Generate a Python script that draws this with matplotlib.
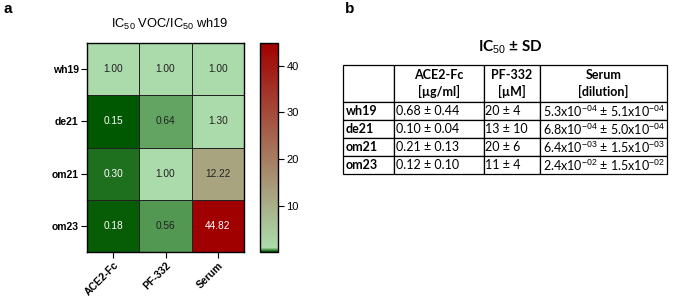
import numpy as np
import matplotlib
matplotlib.use("Agg")
import matplotlib.pyplot as plt
from matplotlib.colors import LinearSegmentedColormap, Normalize

plt.rcParams['font.family'] = ['Liberation Sans', 'DejaVu Sans']
plt.rcParams['mathtext.fontset'] = 'custom'
plt.rcParams['mathtext.rm'] = 'Liberation Sans'
plt.rcParams['mathtext.it'] = 'Liberation Sans'

# panel a: IC50 ratio VOC / wh19
variants = ['wh19', 'de21', 'om21', 'om23']
agents = ['ACE2-Fc', 'PF-332', 'Serum']
ratio = np.array([
    [1.00, 1.00, 1.00],
    [0.15, 0.64, 1.30],
    [0.30, 1.00, 12.22],
    [0.18, 0.56, 44.82],
])
cbar_ticks = [10, 20, 30, 40]

# panel b: IC50 +/- SD table
col_labels = ['', 'ACE2-Fc\n[µg/ml]', 'PF-332\n[µM]', 'Serum\n[dilution]']
ace2_txt = ['0.68 ± 0.44', '0.10 ± 0.04', '0.21 ± 0.13', '0.12 ± 0.10']
pf_txt = ['20 ± 4', '13 ± 10', '20 ± 6', '11 ± 4']
serum_txt = [r'5.3x10$^{-04}$ ± 5.1x10$^{-04}$',
             r'6.8x10$^{-04}$ ± 5.0x10$^{-04}$',
             r'6.4x10$^{-03}$ ± 1.5x10$^{-03}$',
             r'2.4x10$^{-02}$ ± 1.5x10$^{-02}$']

W, H = 685, 299
fig = plt.figure(figsize=(W / 100, H / 100), dpi=100)

def box(x0, y0, x1, y1):
    # pixel box -> figure fraction rect
    return [x0 / W, 1 - y1 / H, (x1 - x0) / W, (y1 - y0) / H]

# colormap: dark green -> light green at 1 -> red
vmin, vmax = 0.07, 44.9
norm = Normalize(vmin, vmax)
p1 = (1.0 - vmin) / (vmax - vmin)
cmap = LinearSegmentedColormap.from_list('gr', [
    (0.0, '#005400'),
    ((0.15 - vmin) / (vmax - vmin), '#005800'),
    (p1, '#acdcac'),
    (1.0, '#a00000'),
], N=8192)

ax = fig.add_axes(box(87, 43, 244, 252))
mesh = ax.pcolormesh(ratio, cmap=cmap, norm=norm, edgecolors='#222222', linewidth=0.7)
ax.set_xlim(0, 3)
ax.set_ylim(4, 0)
ax.set_xticks(np.arange(len(agents)) + 0.5)
ax.set_xticklabels(agents, rotation=45, ha='right', rotation_mode='anchor',
                   fontsize=7.5, fontweight='bold')
ax.set_yticks(np.arange(len(variants)) + 0.5)
ax.set_yticklabels(variants, fontsize=7.5, fontweight='bold')
ax.tick_params(length=4, width=0.8, pad=2)
for s in ax.spines.values():
    s.set_linewidth(1.0)
for i in range(len(variants)):
    for j in range(len(agents)):
        v = ratio[i, j]
        c = 'white' if (v < 0.4 or v > 30) else '#222222'
        ax.text(j + 0.5, i + 0.5, f'{v:.2f}', ha='center', va='center',
                fontsize=7.3, color=c)

cax = fig.add_axes(box(260, 43, 278, 252))
cb = fig.colorbar(mesh, cax=cax)
cb.set_ticks(cbar_ticks)
cb.ax.tick_params(labelsize=8, length=4, width=0.8, pad=2)
cb.outline.set_linewidth(1.0)

fig.text(170 / W, 1 - 24 / H, r'IC$_{50}$ VOC/IC$_{50}$ wh19', ha='center', va='center',
         fontsize=9.3)
fig.text(3 / W, 1 - 9 / H, 'a', fontsize=11, fontweight='bold', va='center')
fig.text(345 / W, 1 - 9 / H, 'b', fontsize=11, fontweight='bold', va='center')

# table
tfont = 'Lato'
fs = 9
fig.text(510 / W, 1 - 47 / H, r'IC$_{50}$ ± SD', ha='center', va='center',
         fontsize=11, fontweight='bold', family=tfont)
tax = fig.add_axes(box(343, 65, 667, 174))
tax.axis('off')
rows = [[variants[i], ace2_txt[i], pf_txt[i], serum_txt[i]] for i in range(len(variants))]
col_w = [51, 90, 56, 127]
tbl = tax.table(cellText=[col_labels] + rows, colWidths=[w / sum(col_w) for w in col_w],
                bbox=[0, 0, 1, 1], cellLoc='left')
tbl.auto_set_font_size(False)
tbl.set_fontsize(fs)
for (r, c), cell in tbl.get_celld().items():
    cell.set_linewidth(0.9)
    cell.set_edgecolor('black')
    cell.set_height(37 if r == 0 else 18)
    cell.PAD = 0.02 if c > 0 else 0.05
    t = cell.get_text()
    t.set_family(tfont)
    t.set_fontsize(fs)
    if r == 0:
        cell._loc = 'center'
        t.set_ha('center')
        t.set_fontweight('bold')
        t.set_linespacing(1.3)
    if c == 0:
        t.set_fontweight('bold')

fig.savefig('out.png', dpi=100)
